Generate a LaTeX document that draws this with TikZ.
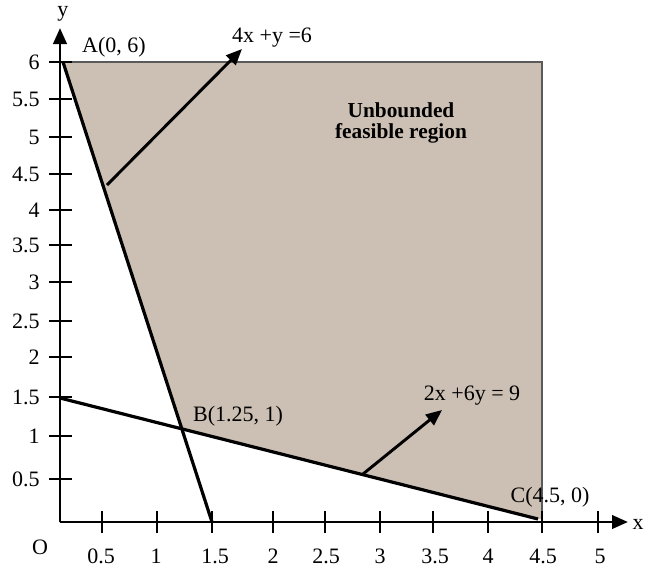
\documentclass[tikz,border=0pt]{standalone}
\usepackage{fontspec}
\setmainfont{Liberation Serif}
\usetikzlibrary{arrows.meta}
\definecolor{feascol}{RGB}{204,191,179}
\definecolor{rim}{RGB}{90,90,90}
\begin{document}
\begin{tikzpicture}[x=0.75pt,y=-0.75pt,
  axis/.style={line width=2.2pt,-{Triangle[length=12pt,width=10pt]}},
  bline/.style={line width=2.4pt},
  arr/.style={line width=2.2pt,-{Triangle[length=12pt,width=10pt]}},
  tck/.style={line width=2pt},
  lbl/.style={font=\fontsize{16.5}{18}\selectfont,inner sep=1pt},
  tlbl/.style={font=\fontsize{16.5}{18}\selectfont,inner sep=0pt}]
\useasboundingbox (0,0) rectangle (650,568);
% key points
\coordinate (O) at (60,522);
\coordinate (A) at (63,62);
\coordinate (B) at (180,427);
\coordinate (C) at (538,519);
\coordinate (X15) at (212,522);
\coordinate (Y15) at (60,398);
\coordinate (TR) at (542,62);
\coordinate (BR) at (542,519);
\coordinate (XE) at (628,522);
\coordinate (YE) at (60,28);
% feasible region
\fill[feascol] (A) -- (TR) -- (BR) -- (C) -- (B) -- cycle;
\draw[rim,line width=1.4pt] (72,62) -- (TR) -- (BR);
% axes
\draw[axis] (O) -- (XE);
\draw[axis] (O) -- (YE);
% y ticks
\foreach \yy in {62,99,137,174,210,245,282,321,357,397,436,479}
  \draw[tck] (49,\yy) -- (72,\yy);
% x ticks
\foreach \xx in {102,157,212,273,325,380,433,488,542,598}
  \draw[tck] (\xx,511) -- (\xx,533);
% constraint lines
\draw[bline] (A) -- (X15);
\draw[bline] (Y15) -- (C);
% direction arrows
\coordinate (P1) at (107,185);
\coordinate (Q1) at (242,49);
\coordinate (P2) at (363,474);
\coordinate (Q2) at (442,410);
\draw[arr] (P1) -- (Q1);
\draw[arr] (P2) -- (Q2);
% labels
\node[lbl] (ylab) at (63,14) {y};
\node[lbl] (xlab) at (638,524) {x};
\node[lbl] (olab) at (40,547) {O};
\node[lbl] (alab) at (114,47) {A(0, 6)};
\node[lbl] (l1lab) at (272,38) {4x +y =6};
\node[lbl] (blab) at (238,416) {B(1.25, 1)};
\node[lbl] (l2lab) at (472,396) {2x +6y = 9};
\node[lbl] (clab) at (550,497) {C(4.5, 0)};
\node[font=\bfseries\fontsize{16}{18}\selectfont,align=center,inner sep=1pt] (reg) at (401,123) {Unbounded\\[-2pt]feasible region};
% y tick labels
\foreach \v/\yy in {6/62,5.5/99,5/137,4.5/174,4/210,3.5/245,3/282,2.5/321,2/357,1.5/397,1/436,0.5/479}
  \node[tlbl,anchor=east] at (40,\yy) {\v};
% x tick labels
\foreach \v/\xx in {0.5/101,1/156,1.5/215,2/273,2.5/326,3/380,3.5/435,4/488,4.5/543,5/600}
  \node[tlbl] at (\xx,556) {\v};
\end{tikzpicture}
\end{document}
